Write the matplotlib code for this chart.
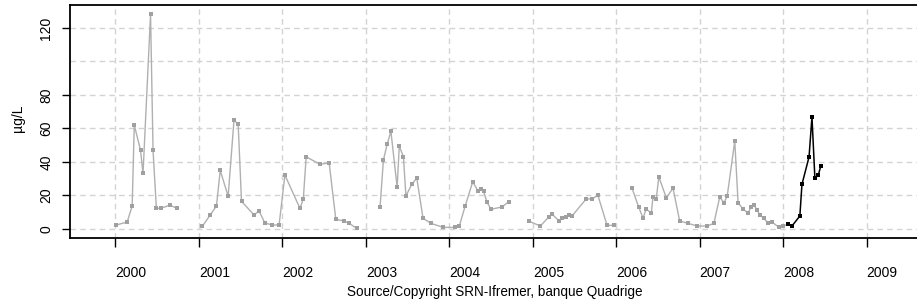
import numpy as np
import matplotlib
matplotlib.use("Agg")
import matplotlib.pyplot as plt

plt.rcParams['font.family'] = ['Liberation Sans', 'DejaVu Sans']

# historical series (gray), NaN = break between sampling campaigns
hist_t = [2000.01, 2000.14, 2000.20, 2000.225, 2000.30, 2000.33, 2000.42, 2000.45, 2000.49, 2000.54, 2000.65, 2000.74,
          np.nan,
          2001.04, 2001.135, 2001.21, 2001.255, 2001.35, 2001.42, 2001.47, 2001.51, 2001.66, 2001.72, 2001.79, 2001.88, 2001.96,
          2002.03, 2002.21, 2002.25, 2002.285, 2002.45, 2002.56, 2002.64, 2002.74, 2002.80, 2002.89,
          np.nan,
          2003.17, 2003.21, 2003.255, 2003.30, 2003.375, 2003.40, 2003.45, 2003.48, 2003.55, 2003.61, 2003.685, 2003.78, 2003.925,
          2004.07, 2004.12, 2004.19, 2004.28, 2004.345, 2004.38, 2004.41, 2004.45, 2004.50, 2004.63, 2004.71,
          np.nan,
          2004.95, 2005.09, 2005.195, 2005.23, 2005.315, 2005.35, 2005.40, 2005.435, 2005.47, 2005.64, 2005.71, 2005.78, 2005.89, 2005.97,
          np.nan,
          2006.19, 2006.27, 2006.32, 2006.36, 2006.42, 2006.44, 2006.48, 2006.51, 2006.60, 2006.68, 2006.76, 2006.86, 2006.97,
          2007.09, 2007.17, 2007.24, 2007.29, 2007.33, 2007.42, 2007.46, 2007.52, 2007.58, 2007.615, 2007.65, 2007.69, 2007.72,
          2007.77, 2007.82, 2007.865, 2007.95, 2008.00, 2008.06]
hist_v = [2.2, 4.0, 13.6, 62, 46.9, 33.1, 128.2, 46.9, 12.2, 12.2, 14.0, 12.2,
          np.nan,
          1.4, 8.2, 13.6, 34.9, 19.4, 65, 62.4, 16.4, 8.2, 10.6, 3.4, 2.2, 2.2,
          32.1, 12.2, 17.6, 43, 38.5, 39.3, 5.6, 4.6, 3.2, 0.2,
          np.nan,
          13.0, 41, 50.5, 58.2, 24.7, 49.4, 43, 19.6, 26.5, 30.3, 6.2, 3.2, 0.8,
          0.8, 1.6, 13.6, 28, 22.5, 23.7, 22.5, 16, 11.6, 13, 16,
          np.nan,
          4.6, 1.6, 7.2, 8.8, 4.6, 6.2, 7.0, 8.4, 7.6, 17.8, 17.8, 20, 2.0, 2.0,
          np.nan,
          24.1, 12.8, 6.4, 11.8, 9.2, 19, 18, 31, 18.4, 24.3, 4.6, 3.2, 1.6,
          1.6, 3.2, 19, 15.4, 19.7, 52.3, 15.4, 11.8, 9.2, 13.2, 14, 11.2, 8.2,
          6.2, 3.2, 4.0, 0.8, 1.6, 2.6]

# current year (black)
cur_t = [2008.06, 2008.105, 2008.20, 2008.225, 2008.31, 2008.345, 2008.38, 2008.42, 2008.45]
cur_v = [2.6, 1.6, 7.6, 26.5, 42.9, 66.8, 30.3, 31.9, 37.3]

years = list(range(2000, 2010))
yticks = [0, 20, 40, 60, 80, 120]
ygrid = [0, 20, 40, 60, 80, 100, 120]

fig = plt.figure(figsize=(9.17, 3.06), dpi=100)
ax = fig.add_axes([70 / 917, 1 - 237.5 / 306, 863.4 / 917, 232.5 / 306])

for y in ygrid:
    ax.axhline(y, color='#d3d3d3', lw=1, ls=(0, (4, 3)), zorder=0)
for yr in years:
    ax.axvline(yr, color='#d3d3d3', lw=1, ls=(0, (4, 3)), zorder=0)

ax.plot(hist_t, hist_v, color='#b0b0b0', lw=1, marker='s', ms=2.6, mew=0, mfc='#a0a0a0')
ax.plot(cur_t, cur_v, color='black', lw=1.1, marker='s', ms=3.0, mew=0)

ax.set_xlim(1999.455, 2009.8)
ax.set_ylim(-5.26, 133.75)

ax.set_xticks(years)
ax.set_xticklabels([str(y) for y in years], ha='left', fontsize=10)
ax.tick_params(axis='x', length=6.5, width=1, pad=14)
ax.set_yticks(yticks)
ax.set_yticklabels([str(y) for y in yticks], rotation=90, va='center', fontsize=10)
ax.tick_params(axis='y', length=6, width=1, pad=6)

for s in ax.spines.values():
    s.set_linewidth(1.3)

fig.text(18 / 917, 1 - 118 / 306, 'µg/L', rotation=90, ha='center', va='center', fontsize=10)
fig.text(495 / 917, 1 - 292 / 306, 'Source/Copyright SRN-Ifremer, banque Quadrige',
         ha='center', va='center', fontsize=9.75)

fig.savefig('out.png', dpi=100)
